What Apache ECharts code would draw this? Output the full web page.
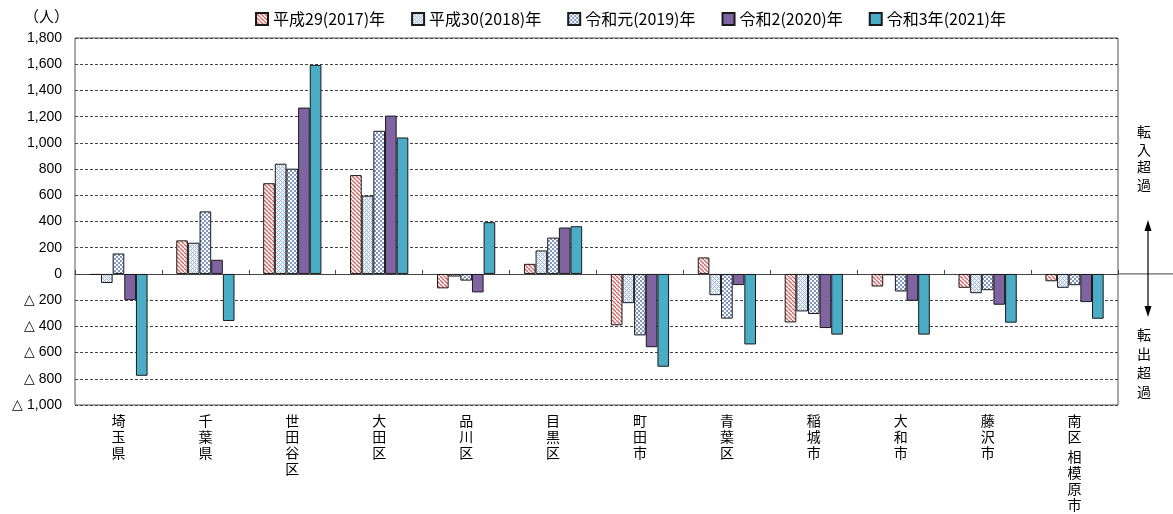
<!DOCTYPE html>
<html><head><meta charset="utf-8">
<script src="https://cdn.jsdelivr.net/npm/echarts@6/dist/echarts.min.js"></script>
<style>html,body{margin:0;padding:0;background:#fff}#c{width:1173px;height:514px}</style>
</head><body><div id="c"></div>
<script>
const categories = ['埼玉県','千葉県','世田谷区','大田区','品川区','目黒区','町田市','青葉区','稲城市','大和市','藤沢市','南区　相模原市'];
const seriesNames = ['平成29(2017)年','平成30(2018)年','令和元(2019)年','令和2(2020)年','令和3年(2021)年'];
const v2017 = [-8, 256, 692, 754, -110, 77, -392, 126, -370, -96, -106, -56];
const v2018 = [-69, 238, 841, 597, -20, 179, -223, -162, -286, -10, -147, -106];
const v2019 = [156, 477, 803, 1092, -51, 277, -469, -341, -306, -134, -124, -86];
const v2020 = [-200, 108, 1269, 1208, -141, 354, -559, -85, -413, -205, -235, -215];
const v2021 = [-777, -359, 1595, 1041, 395, 364, -708, -538, -463, -463, -372, -342];
const yTicks = {min: -1000, max: 1800, interval: 200};

function makePattern(draw, w, h) {
  const c = document.createElement('canvas');
  c.width = w; c.height = h;
  const ctx = c.getContext('2d');
  draw(ctx, w, h);
  return {image: c, repeat: 'repeat'};
}
const p2017 = makePattern((ctx, w, h) => {
  ctx.fillStyle = '#fff'; ctx.fillRect(0, 0, w, h);
  ctx.strokeStyle = '#d06a6a'; ctx.lineWidth = 1.4;
  for (let k = -w; k <= w; k += 4) {
    ctx.beginPath(); ctx.moveTo(k, 0); ctx.lineTo(k + h, h); ctx.stroke();
  }
}, 4, 4);
const p2018 = makePattern((ctx, w, h) => {
  ctx.fillStyle = '#eef3f9'; ctx.fillRect(0, 0, w, h);
  ctx.fillStyle = '#a3bbd6';
  const pts = [[0,0],[2,2],[1,1],[3,3],[3,1],[1,3]];
  pts.forEach(p => ctx.fillRect(p[0], p[1], 1, 1));
}, 4, 4);
const p2019 = makePattern((ctx, w, h) => {
  ctx.fillStyle = '#fff'; ctx.fillRect(0, 0, w, h);
  ctx.fillStyle = '#7f97c0';
  ctx.fillRect(0, 0, 2, 2); ctx.fillRect(2, 2, 2, 2);
}, 4, 4);
const fills = [p2017, p2018, p2019, '#8064A2', '#4BACC6'];
const dataSets = [v2017, v2018, v2019, v2020, v2021];

const chart = echarts.init(document.getElementById('c'), null, {renderer: 'canvas'});
const jp = '"Noto Sans CJK JP", sans-serif';

function vertLabel(name) {
  return name.split('').map(ch => ch === '　' ? '{s| }' : ch).join('\n');
}

const option = {
  animation: false,
  backgroundColor: '#fff',
  legend: {
    left: 250, top: 6,
    icon: 'rect',
    itemWidth: 12, itemHeight: 12, itemGap: 26,
    textStyle: {fontFamily: jp, fontSize: 16, color: '#000'},
    data: seriesNames
  },
  grid: {left: 75, right: 55, top: 38, bottom: 109, outerBoundsMode: 'none', containLabel: false,
    show: true, borderColor: '#555', borderWidth: 1, backgroundColor: 'transparent'},
  xAxis: [{
    type: 'category', data: categories, position: 'bottom',
    axisLine: {onZero: true, lineStyle: {color: '#444', width: 1}},
    axisTick: {show: true, inside: true, length: 4, interval: 0, lineStyle: {color: '#444'}},
    axisLabel: {show: false}, splitLine: {show: false}
  }, {
    type: 'category', data: categories, position: 'bottom',
    axisLine: {show: false, onZero: false}, axisTick: {show: false},
    axisLabel: {
      interval: 0, margin: 8, color: '#000', fontFamily: jp, fontSize: 14, lineHeight: 16,
      verticalAlign: 'top',
      formatter: vertLabel,
      rich: {s: {lineHeight: 4, fontSize: 4}}
    }
  }],
  yAxis: {
    type: 'value', min: yTicks.min, max: yTicks.max, interval: yTicks.interval,
    axisLine: {show: false}, axisTick: {show: false},
    axisLabel: {
      color: '#000', fontFamily: '"Liberation Sans", Arial, sans-serif', fontSize: 14, margin: 13,
      formatter: v => v < 0 ? '△ ' + (-v).toLocaleString('en-US') : v.toLocaleString('en-US')
    },
    splitLine: {show: true, lineStyle: {color: '#444', type: [3, 2], width: 1}}
  },
  series: seriesNames.map((n, i) => ({
    name: n, type: 'bar', xAxisIndex: 0, data: dataSets[i],
    barGap: '0%', barCategoryGap: '33%',
    itemStyle: {color: fills[i], borderColor: '#1a1a1a', borderWidth: 1}
  }))
};
chart.setOption(option);

const zeroY = chart.convertToPixel({yAxisIndex: 0}, 0);
const rightX = 1173 - 55;
const ax = 1148;
const vtext = (s, x, y, lh) => ({
  type: 'text', left: x, top: y,
  style: {text: s.split('').join('\n'), font: '14px ' + jp, fill: '#000', lineHeight: lh, textAlign: 'center'}
});
chart.setOption({
  graphic: [
    {type: 'text', left: 24, top: 9, style: {text: '（人）', font: '15px ' + jp, fill: '#000'}},
    {type: 'line', shape: {x1: rightX, y1: zeroY, x2: 1173, y2: zeroY}, style: {stroke: '#444', lineWidth: 1}},
    {type: 'line', shape: {x1: ax, y1: 228, x2: ax, y2: 310}, style: {stroke: '#000', lineWidth: 1.2}},
    {type: 'polygon', shape: {points: [[ax, 220], [ax - 3.5, 231], [ax + 3.5, 231]]}, style: {fill: '#000'}},
    {type: 'polygon', shape: {points: [[ax, 317], [ax - 3.5, 306], [ax + 3.5, 306]]}, style: {fill: '#000'}},
    vtext('転入超過', 1137, 123, 17.5),
    vtext('転出超過', 1137, 325, 19)
  ]
});
</script>
</body></html>
